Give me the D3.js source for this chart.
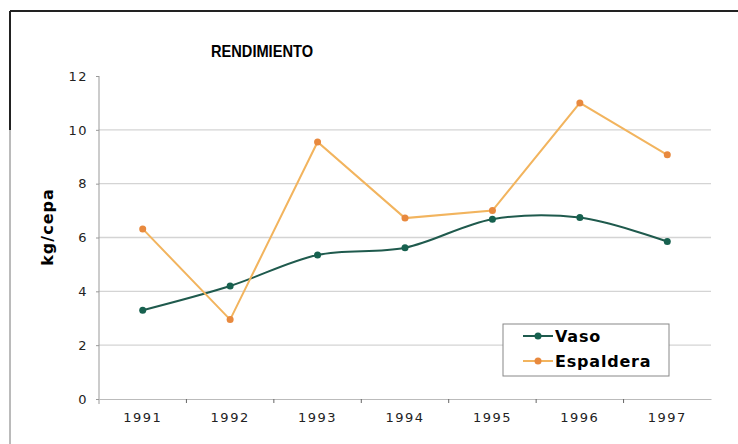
<!DOCTYPE html>
<html>
<head>
<meta charset="utf-8">
<script src="https://cdn.jsdelivr.net/npm/d3@7"></script>
<style>
  body { margin: 0; background: #fff; }
  svg { display: block; }
  .axis text { font-family: "DejaVu Sans", sans-serif; font-size: 13px; fill: #222; letter-spacing: 1.5px; }
</style>
</head>
<body>
<svg width="738" height="444"></svg>
<script>
var years = ["1991", "1992", "1993", "1994", "1995", "1996", "1997"];
var vaso = [3.3, 4.2, 5.35, 5.62, 6.68, 6.74, 5.85];
var espaldera = [6.32, 2.95, 9.55, 6.72, 7.0, 11.0, 9.07];
var yTicks = [0, 2, 4, 6, 8, 10, 12];

var width = 738;
var height = 444;
var margin = { left: 99, right: 27, top: 76, bottom: 45 };

var svg = d3.select('svg');

// frame round the chart
svg.append('line')
  .attr('x1', 10).attr('y1', 11).attr('x2', width).attr('y2', 11)
  .attr('stroke', '#222').attr('stroke-width', 2);
svg.append('line')
  .attr('x1', 10).attr('y1', 11).attr('x2', 10).attr('y2', 130)
  .attr('stroke', '#222').attr('stroke-width', 2);
svg.append('line')
  .attr('x1', 10).attr('y1', 130).attr('x2', 10).attr('y2', height)
  .attr('stroke', '#777').attr('stroke-width', 1);

var xScale = d3.scaleBand()
  .domain(years)
  .range([margin.left, width - margin.right]);

var yScale = d3.scaleLinear()
  .domain([0, 12])
  .range([height - margin.bottom, margin.top]);

// gridlines
svg.append('g')
  .selectAll('line')
  .data(yTicks.filter(function(d) { return d > 0 && d < 12; }))
  .enter()
  .append('line')
  .attr('x1', margin.left)
  .attr('x2', width - margin.right)
  .attr('y1', function(d) { return yScale(d); })
  .attr('y2', function(d) { return yScale(d); })
  .attr('stroke', '#d4d4d4')
  .attr('stroke-width', 1.3);

var xAxis = d3.axisBottom(xScale).tickSize(0).tickPadding(14);
var yAxis = d3.axisLeft(yScale).tickValues(yTicks).tickSize(3).tickPadding(8);

var gx = svg.append('g')
  .attr('class', 'axis')
  .attr('transform', 'translate(0,' + (height - margin.bottom) + ')')
  .call(xAxis);
gx.select('.domain').attr('stroke', '#bbb');
// ticks between the categories
gx.selectAll('.sep')
  .data(years.slice(1))
  .enter()
  .append('line')
  .attr('class', 'sep')
  .attr('x1', function(d) { return xScale(d); })
  .attr('x2', function(d) { return xScale(d); })
  .attr('y1', 0).attr('y2', 4)
  .attr('stroke', '#666');

var gy = svg.append('g')
  .attr('class', 'axis')
  .attr('transform', 'translate(' + margin.left + ',0)')
  .call(yAxis);
gy.select('.domain').attr('stroke', '#999').attr('d', 'M0,' + margin.top + 'V' + (height - margin.bottom + 5));
gy.selectAll('.tick line').attr('stroke', '#999');

svg.append('text')
  .attr('x', 262)
  .attr('y', 57)
  .attr('text-anchor', 'middle')
  .attr('textLength', 102)
  .attr('lengthAdjust', 'spacingAndGlyphs')
  .style('font-family', '"Liberation Sans", Arial, sans-serif')
  .style('font-weight', 'bold')
  .style('font-size', '16.5px')
  .text('RENDIMIENTO');

svg.append('text')
  .attr('transform', 'rotate(-90)')
  .attr('x', -227)
  .attr('y', 53)
  .attr('text-anchor', 'middle')
  .style('font-family', '"DejaVu Sans", sans-serif')
  .style('font-weight', 'bold')
  .style('font-size', '16px')
  .style('letter-spacing', '1px')
  .text('kg/cepa');

var cx = function(d, i) { return xScale(years[i]) + xScale.bandwidth() / 2; };

var series = [
  { name: 'Vaso', values: vaso, line: '#1f5a4d', dot: '#17614f', curve: d3.curveCatmullRom.alpha(0.5) },
  { name: 'Espaldera', values: espaldera, line: '#f2b45e', dot: '#e8893e', curve: d3.curveLinear }
];

series.forEach(function(s) {
  var line = d3.line()
    .x(cx)
    .y(function(d) { return yScale(d); })
    .curve(s.curve);
  svg.append('path')
    .datum(s.values)
    .attr('d', line)
    .attr('fill', 'none')
    .attr('stroke', s.line)
    .attr('stroke-width', 2);
  svg.selectAll('.dot-' + s.name)
    .data(s.values)
    .enter()
    .append('circle')
    .attr('cx', cx)
    .attr('cy', function(d) { return yScale(d); })
    .attr('r', 3.5)
    .attr('fill', s.dot);
});

// legend
var legend = svg.append('g').attr('transform', 'translate(503,324)');
legend.append('rect')
  .attr('width', 166).attr('height', 52)
  .attr('fill', '#fff')
  .attr('stroke', '#888').attr('stroke-width', 1);
series.forEach(function(s, i) {
  var y = 12 + i * 25;
  legend.append('line')
    .attr('x1', 20).attr('x2', 50).attr('y1', y).attr('y2', y)
    .attr('stroke', s.line).attr('stroke-width', 2);
  legend.append('circle')
    .attr('cx', 35).attr('cy', y).attr('r', 3.5).attr('fill', s.dot);
  legend.append('text')
    .attr('x', 52).attr('y', y + 6)
    .style('font-family', '"DejaVu Sans", sans-serif')
    .style('font-weight', 'bold')
    .style('font-size', '16px')
    .style('letter-spacing', '0.8px')
    .text(s.name);
});
</script>
</body>
</html>
